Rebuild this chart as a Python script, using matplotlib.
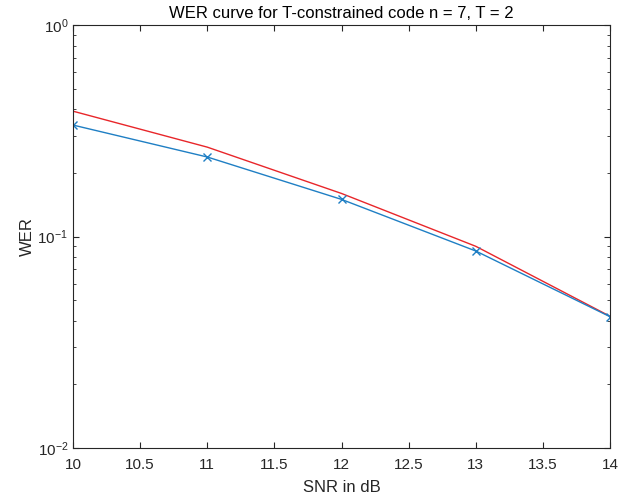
import matplotlib
matplotlib.use('Agg')
import matplotlib.pyplot as plt
from matplotlib.ticker import LogLocator, NullFormatter

plt.rcParams['font.family'] = ['Liberation Sans', 'DejaVu Sans']

# Dados
snr = [10, 11, 12, 13, 14]
wer_sim = [0.337, 0.238, 0.150, 0.0855, 0.0418]
wer_teo = [0.392, 0.265, 0.160, 0.090, 0.0420]

fig = plt.figure(figsize=(6.19, 5.04), dpi=100)
ax = fig.add_axes([0.118, 0.111, 0.8675, 0.839])

ax.semilogy(snr, wer_teo, color='#e8262a', linewidth=1.0)
ax.semilogy(snr, wer_sim, color='#1f7fc4', linewidth=1.0, marker='x', markersize=6)

ax.set_xlim(10, 14)
ax.set_ylim(1e-2, 1)
ax.set_xticks([10, 10.5, 11, 11.5, 12, 12.5, 13, 13.5, 14])
ax.set_xticklabels(['10', '10.5', '11', '11.5', '12', '12.5', '13', '13.5', '14'])
ax.yaxis.set_major_locator(LogLocator(base=10, numticks=5))
ax.yaxis.set_minor_locator(LogLocator(base=10, subs=range(2, 10), numticks=20))
ax.yaxis.set_minor_formatter(NullFormatter())

ax.tick_params(which='both', direction='in', top=True, right=True, colors='#262626', labelsize=11)
ax.tick_params(which='major', length=4)
ax.tick_params(which='minor', length=2)
ax.tick_params(axis='x', pad=7)
for s in ax.spines.values():
    s.set_color('#262626')
    s.set_linewidth(0.8)

ax.set_xlabel('SNR in dB', fontsize=12, color='#262626', labelpad=6)
ax.set_ylabel('WER', fontsize=12, color='#262626', labelpad=2)
ax.set_title('WER curve for T-constrained code n = 7, T = 2', fontsize=12, color='#000000', pad=5)

fig.savefig('out.png', dpi=100)
